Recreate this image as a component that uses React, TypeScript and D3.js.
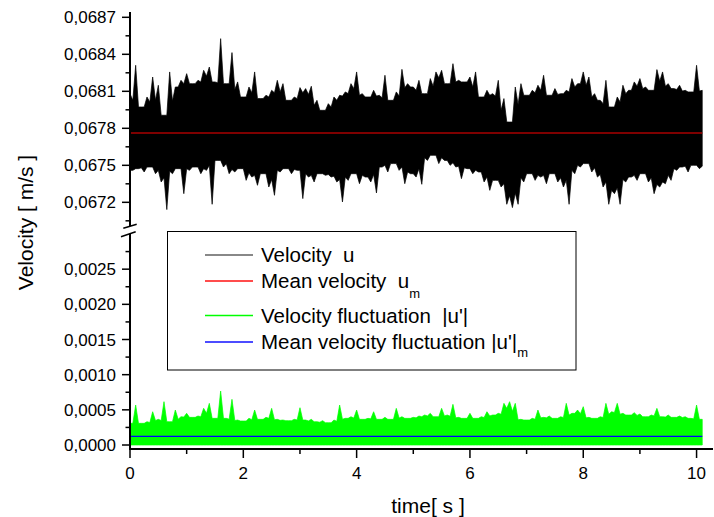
import React from 'react';
import * as d3 from 'd3';

// sampling interval of the envelope series (s)
const sampleInterval = 0.1;

// per-bin maximum of the velocity signal u (m/s)
const velocityMax = [
  0.068081, 0.068311, 0.067973, 0.068054, 0.068216, 0.068149, 0.067906, 0.068257, 0.068135, 0.068189,
  0.068243, 0.068162, 0.068189, 0.068270, 0.068297, 0.068176, 0.068527, 0.068162, 0.068414, 0.068176,
  0.068054, 0.068135, 0.068257, 0.068041, 0.068068, 0.068108, 0.068189, 0.068162, 0.068027, 0.068054,
  0.068130, 0.068122, 0.068141, 0.068027, 0.067946, 0.068000, 0.068054, 0.068068, 0.068095, 0.068162,
  0.068257, 0.068081, 0.068054, 0.068108, 0.068068, 0.068230, 0.068027, 0.068095, 0.068278, 0.068162,
  0.068135, 0.068189, 0.068081, 0.068203, 0.068257, 0.068270, 0.068162, 0.068324, 0.068189, 0.068176,
  0.068216, 0.068257, 0.068054, 0.068108, 0.068081, 0.068189, 0.068041, 0.067851, 0.068135, 0.068162,
  0.068068, 0.068108, 0.068149, 0.068230, 0.068068, 0.068122, 0.068081, 0.068108, 0.068203, 0.068162,
  0.068257, 0.068216, 0.068081, 0.068027, 0.068189, 0.067973, 0.068054, 0.068149, 0.068108, 0.068176,
  0.068203, 0.068135, 0.068108, 0.068276, 0.068257, 0.068162, 0.068122, 0.068149, 0.068108, 0.068095,
  0.068311, 0.068108,
];

// per-bin minimum of the velocity signal u (m/s)
const velocityMin = [
  0.067459, 0.067473, 0.067446, 0.067486, 0.067432, 0.067365, 0.067141, 0.067432, 0.067473, 0.067270,
  0.067459, 0.067486, 0.067432, 0.067459, 0.067184, 0.067540, 0.067486, 0.067432, 0.067446, 0.067473,
  0.067378, 0.067405, 0.067338, 0.067432, 0.067324, 0.067257, 0.067446, 0.067473, 0.067432, 0.067459,
  0.067230, 0.067405, 0.067365, 0.067432, 0.067419, 0.067405, 0.067365, 0.067203, 0.067378, 0.067432,
  0.067351, 0.067405, 0.067365, 0.067276, 0.067486, 0.067446, 0.067514, 0.067459, 0.067351, 0.067432,
  0.067405, 0.067346, 0.067540, 0.067581, 0.067514, 0.067540, 0.067500, 0.067486, 0.067392, 0.067473,
  0.067432, 0.067446, 0.067365, 0.067297, 0.067378, 0.067324, 0.067184, 0.067157, 0.067184, 0.067365,
  0.067432, 0.067378, 0.067405, 0.067351, 0.067432, 0.067365, 0.067324, 0.067184, 0.067432, 0.067486,
  0.067514, 0.067446, 0.067405, 0.067324, 0.067184, 0.067270, 0.067184, 0.067365, 0.067405, 0.067378,
  0.067432, 0.067365, 0.067270, 0.067324, 0.067351, 0.067378, 0.067459, 0.067486, 0.067446, 0.067500,
  0.067473, 0.067486,
];

// per-bin maximum of the velocity fluctuation |u'| (m/s)
const fluctuationMax = [
  0.000308, 0.000568, 0.000308, 0.000331, 0.000473, 0.000365, 0.000616, 0.000331, 0.000497, 0.000402,
  0.000450, 0.000393, 0.000412, 0.000521, 0.000592, 0.000379, 0.000767, 0.000379, 0.000649, 0.000355,
  0.000341, 0.000379, 0.000497, 0.000365, 0.000393, 0.000521, 0.000365, 0.000355, 0.000346, 0.000365,
  0.000530, 0.000355, 0.000365, 0.000331, 0.000346, 0.000317, 0.000355, 0.000568, 0.000379, 0.000402,
  0.000497, 0.000365, 0.000379, 0.000473, 0.000365, 0.000393, 0.000365, 0.000521, 0.000402, 0.000379,
  0.000393, 0.000412, 0.000426, 0.000450, 0.000402, 0.000521, 0.000426, 0.000578, 0.000393, 0.000379,
  0.000450, 0.000379, 0.000402, 0.000473, 0.000426, 0.000450, 0.000592, 0.000616, 0.000592, 0.000365,
  0.000355, 0.000379, 0.000497, 0.000393, 0.000412, 0.000379, 0.000402, 0.000592, 0.000450, 0.000497,
  0.000545, 0.000393, 0.000379, 0.000402, 0.000592, 0.000473, 0.000592, 0.000450, 0.000426, 0.000459,
  0.000440, 0.000402, 0.000426, 0.000521, 0.000402, 0.000426, 0.000393, 0.000412, 0.000402, 0.000379,
  0.000568, 0.000365,
];

const meanVelocity = 0.067762;
const meanFluctuation = 0.000124;

const xTicks = [0, 2, 4, 6, 8, 10];
const xMinorTicks = [1, 3, 5, 7, 9];
const upperTicks = [0.0672, 0.0675, 0.0678, 0.0681, 0.0684, 0.0687];
const upperMinorTicks = [0.06705, 0.06735, 0.06765, 0.06795, 0.06825, 0.06855];
const lowerTicks = [0, 0.0005, 0.001, 0.0015, 0.002, 0.0025];
const lowerMinorTicks = [0.00025, 0.00075, 0.00125, 0.00175, 0.00225, 0.00275];

const legendItems = [
  { label: 'Velocity  u', sub: '', color: '#606060' },
  { label: 'Mean velocity  u', sub: 'm', color: '#ff1010' },
  { label: "Velocity fluctuation  |u'|", sub: '', color: '#00ff00' },
  { label: "Mean velocity fluctuation |u'|", sub: 'm', color: '#1010ff' },
];

const W = 714;
const H = 517;
const FONT = '"Liberation Sans", Arial, Helvetica, sans-serif';

const fmt = (v: number) => d3.format('.4f')(v).replace('.', ',');

// notch level between bin i and i+1: halfway between the lower neighbour
// and the lowest value of the surrounding 4 bins (dense part of the trace)
const notches = (arr: number[], pickMin: boolean) =>
  arr.slice(0, -1).map((_, i) => {
    const pair = [arr[i], arr[i + 1]];
    const win = arr.slice(Math.max(0, i - 1), Math.min(arr.length, i + 3));
    const a = pickMin ? (d3.min(pair) as number) : (d3.max(pair) as number);
    const b = pickMin ? (d3.min(win) as number) : (d3.max(win) as number);
    return (a + b) / 2;
  });

type Pt = { t: number; top: number; bot: number };

export default function App() {
  const x = d3.scaleLinear().domain([0, 10.29]).range([130, 713]);
  const yU = d3.scaleLinear().domain([0.067008, 0.068743]).range([226, 12]);
  const yL = d3.scaleLinear().domain([-0.0000568, 0.003]).range([449, 234]);

  const tOf = (i: number) => i * sampleInterval;
  const tEnd = tOf(velocityMax.length - 1);

  const hiNotch = notches(velocityMax, true);
  const loNotch = notches(velocityMin, false);
  const flNotch = notches(fluctuationMax, true);

  const velPts: Pt[] = [];
  velocityMax.forEach((hi, i) => {
    velPts.push({ t: tOf(i), top: hi, bot: i > 0 ? loNotch[i - 1] : velocityMin[0] });
    if (i < velocityMax.length - 1)
      velPts.push({ t: tOf(i) + sampleInterval / 2, top: hiNotch[i], bot: velocityMin[i] });
  });
  const velPath = d3
    .area<Pt>()
    .x((d) => x(d.t))
    .y0((d) => yU(d.bot))
    .y1((d) => yU(d.top))(velPts) as string;

  const flPts: Pt[] = [];
  fluctuationMax.forEach((hi, i) => {
    flPts.push({ t: tOf(i), top: hi, bot: 0 });
    if (i < fluctuationMax.length - 1)
      flPts.push({ t: tOf(i) + sampleInterval / 2, top: flNotch[i], bot: 0 });
  });
  const flPath = d3
    .area<Pt>()
    .x((d) => x(d.t))
    .y0((d) => yL(d.bot))
    .y1((d) => yL(d.top))(flPts) as string;

  const axisX = 130;
  const axisY = 449;

  const legendRows = [255, 281, 315.5, 342];
  const subShift = [0, 10, 0, 8];

  return (
    <svg
      width={W}
      height={H}
      viewBox={`0 0 ${W} ${H}`}
      style={{ position: 'absolute', left: 0, top: 0, background: '#fff' }}
      fontFamily={FONT}
    >
      <rect x={0} y={0} width={W} height={H} fill="#fff" />

      {/* velocity signal */}
      <path d={velPath} fill="#000" stroke="#000" strokeWidth={0.7} />
      <line
        x1={x(0)}
        x2={x(tEnd)}
        y1={yU(meanVelocity)}
        y2={yU(meanVelocity)}
        stroke="#a80000"
        strokeWidth={1.6}
      />

      {/* fluctuation signal */}
      <path d={flPath} fill="#00ff00" stroke="#00ff00" strokeWidth={0.7} />
      <line
        x1={x(0)}
        x2={x(tEnd)}
        y1={yL(meanFluctuation)}
        y2={yL(meanFluctuation)}
        stroke="#0000ff"
        strokeWidth={1.3}
      />

      {/* y axis (broken) */}
      <line x1={axisX} x2={axisX} y1={yU.range()[1]} y2={yU.range()[0]} stroke="#000" strokeWidth={2} />
      <line x1={axisX} x2={axisX} y1={yL.range()[1]} y2={axisY + 1} stroke="#000" strokeWidth={2} />
      <line x1={123.3} y1={228.3} x2={136.7} y2={224.3} stroke="#000" strokeWidth={1.5} />
      <line x1={121} y1={236.7} x2={135.7} y2={231.7} stroke="#000" strokeWidth={1.5} />

      {upperTicks.map((v) => (
        <g key={'u' + v}>
          <line x1={axisX - 8} x2={axisX} y1={yU(v)} y2={yU(v)} stroke="#000" strokeWidth={1.5} />
          <text x={116} y={yU(v) + 6} fontSize={17} textAnchor="end" fill="#000">
            {fmt(v)}
          </text>
        </g>
      ))}
      {upperMinorTicks.map((v) => (
        <line key={'um' + v} x1={axisX - 4.5} x2={axisX} y1={yU(v)} y2={yU(v)} stroke="#000" strokeWidth={1.5} />
      ))}
      {lowerTicks.map((v) => (
        <g key={'l' + v}>
          <line x1={axisX - 8} x2={axisX} y1={yL(v)} y2={yL(v)} stroke="#000" strokeWidth={1.5} />
          <text x={116} y={yL(v) + 6} fontSize={17} textAnchor="end" fill="#000">
            {fmt(v)}
          </text>
        </g>
      ))}
      {lowerMinorTicks.map((v) => (
        <line key={'lm' + v} x1={axisX - 4.5} x2={axisX} y1={yL(v)} y2={yL(v)} stroke="#000" strokeWidth={1.5} />
      ))}

      {/* x axis */}
      <line x1={axisX - 1} x2={x.range()[1]} y1={axisY} y2={axisY} stroke="#000" strokeWidth={2} />
      {xTicks.map((t) => (
        <g key={'x' + t}>
          <line x1={x(t)} x2={x(t)} y1={axisY} y2={axisY + 9} stroke="#000" strokeWidth={1.5} />
          <text x={x(t)} y={478.5} fontSize={17} textAnchor="middle" fill="#000">
            {t}
          </text>
        </g>
      ))}
      {xMinorTicks.map((t) => (
        <line key={'xm' + t} x1={x(t)} x2={x(t)} y1={axisY} y2={axisY + 5} stroke="#000" strokeWidth={1.5} />
      ))}

      {/* axis titles */}
      <text x={428} y={513} fontSize={21} textAnchor="middle" fill="#000" style={{ whiteSpace: 'pre' }}>
        {'time[ s ]'}
      </text>
      <text
        transform="translate(33,222.5) rotate(-90)"
        fontSize={21}
        textAnchor="middle"
        fill="#000"
        style={{ whiteSpace: 'pre' }}
      >
        {'Velocity [ m/s ]'}
      </text>

      {/* legend */}
      <rect x={167.5} y={231.5} width={408.5} height={138.5} fill="#fff" stroke="#000" strokeWidth={1} />
      {legendItems.map((item, i) => (
        <g key={item.label}>
          <line x1={205} x2={253} y1={legendRows[i]} y2={legendRows[i]} stroke={item.color} strokeWidth={1.3} />
          <text x={261} y={legendRows[i] + 7} fontSize={20.5} fill="#000" style={{ whiteSpace: 'pre' }}>
            {item.label}
            {item.sub ? (
              <tspan fontSize={13} dy={subShift[i]} fill="#000">
                {item.sub}
              </tspan>
            ) : null}
          </text>
        </g>
      ))}
    </svg>
  );
}
